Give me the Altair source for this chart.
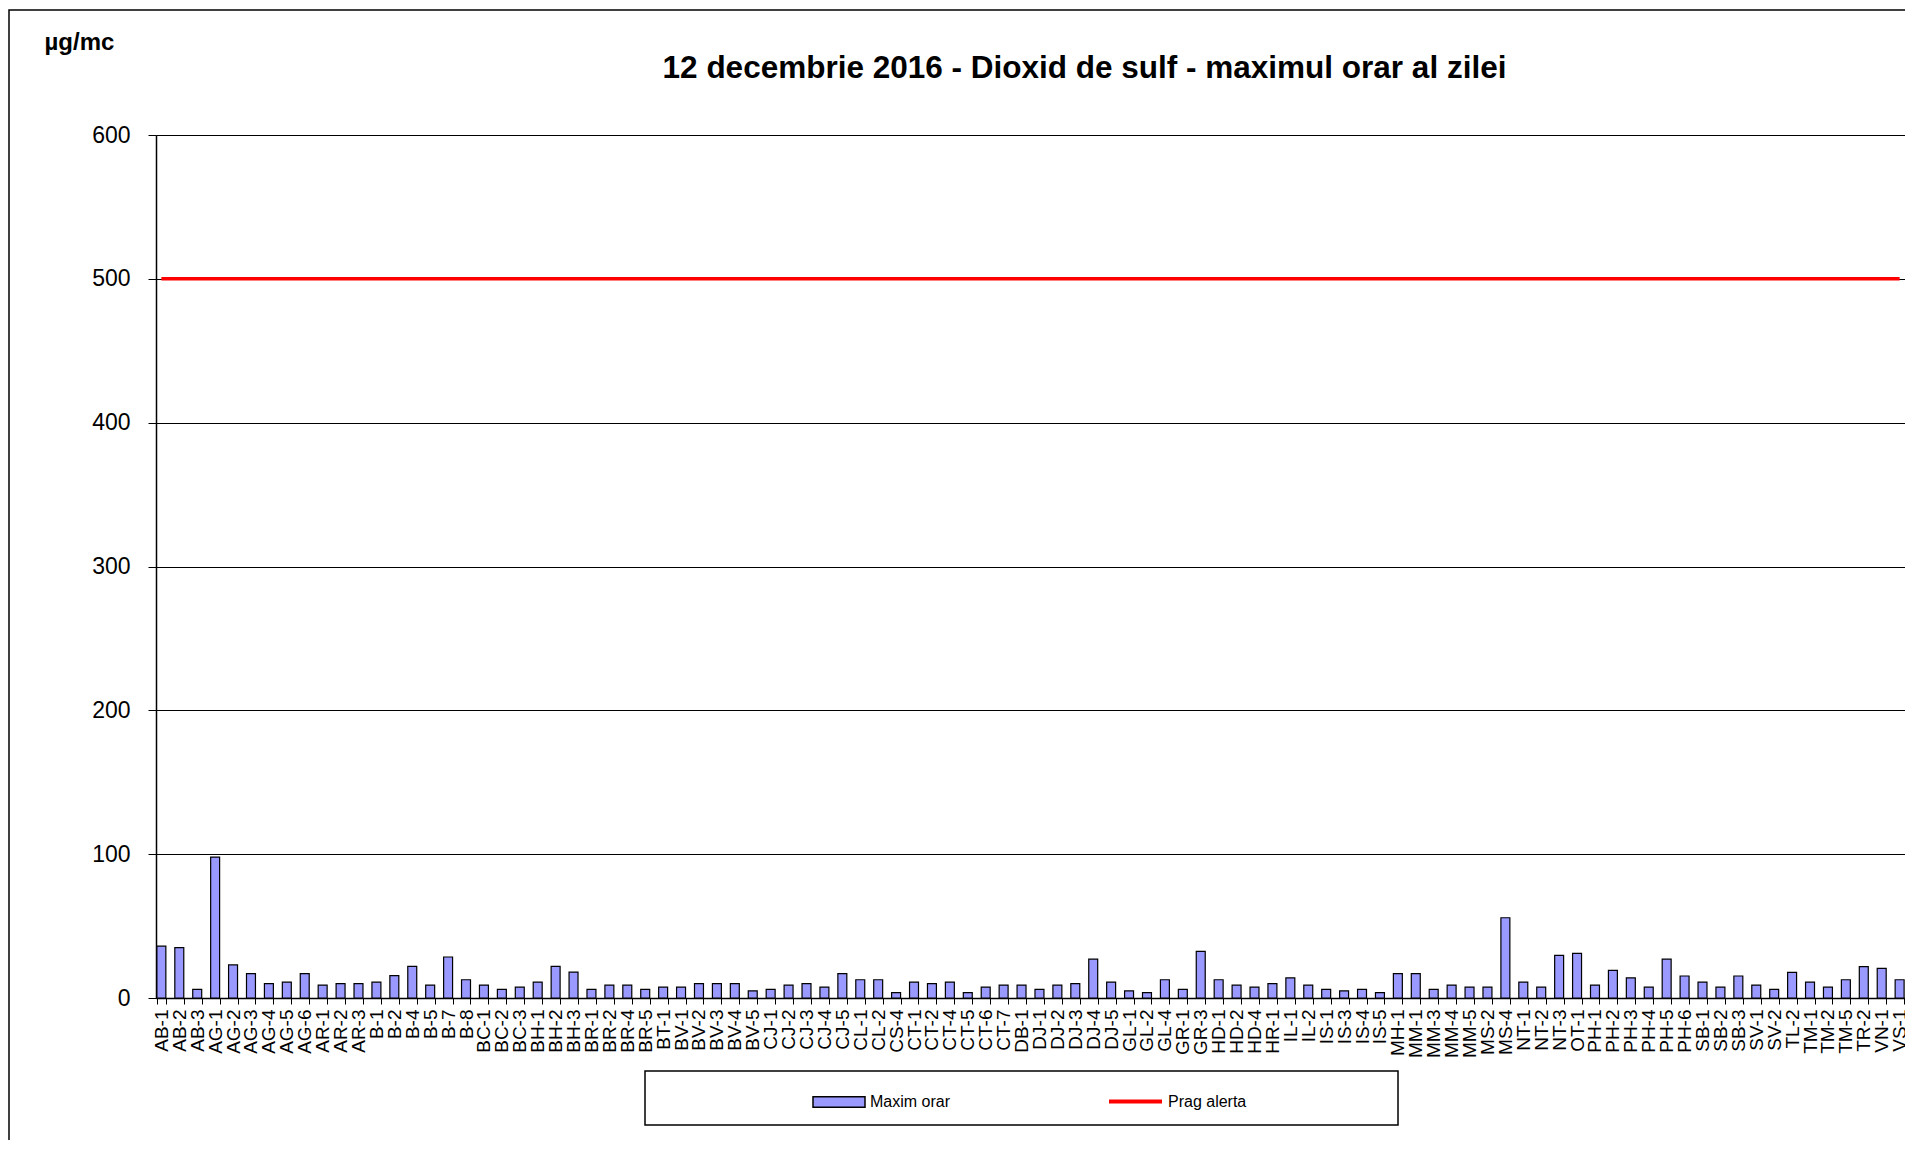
import altair as alt
import pandas as pd

# ---- data ----
stations = [
    "AB-1", "AB-2", "AB-3",
    "AG-1", "AG-2", "AG-3", "AG-4", "AG-5", "AG-6",
    "AR-1", "AR-2", "AR-3",
    "B-1", "B-2", "B-4", "B-5", "B-7", "B-8",
    "BC-1", "BC-2", "BC-3",
    "BH-1", "BH-2", "BH-3",
    "BR-1", "BR-2", "BR-4", "BR-5",
    "BT-1",
    "BV-1", "BV-2", "BV-3", "BV-4", "BV-5",
    "CJ-1", "CJ-2", "CJ-3", "CJ-4", "CJ-5",
    "CL-1", "CL-2",
    "CS-4",
    "CT-1", "CT-2", "CT-4", "CT-5", "CT-6", "CT-7",
    "DB-1",
    "DJ-1", "DJ-2", "DJ-3", "DJ-4", "DJ-5",
    "GL-1", "GL-2", "GL-4",
    "GR-1", "GR-3",
    "HD-1", "HD-2", "HD-4",
    "HR-1",
    "IL-1", "IL-2",
    "IS-1", "IS-3", "IS-4", "IS-5",
    "MH-1",
    "MM-1", "MM-3", "MM-4", "MM-5",
    "MS-2", "MS-4",
    "NT-1", "NT-2", "NT-3",
    "OT-1",
    "PH-1", "PH-2", "PH-3", "PH-4", "PH-5", "PH-6",
    "SB-1", "SB-2", "SB-3",
    "SV-1", "SV-2",
    "TL-2",
    "TM-1", "TM-2", "TM-5",
    "TR-2",
    "VN-1",
    "VS-1",
]

maxim_orar = [
    36, 35, 6,
    98, 23, 17, 10, 11, 17,
    9, 10, 10,
    11, 15.5, 22, 9, 28.5, 12.7,
    9, 6, 7.6,
    11, 22, 18,
    6, 9, 9, 6,
    7.6,
    7.6, 10, 10, 10, 5,
    6, 9, 10, 7.6, 17,
    12.7, 12.7,
    3.7,
    11, 10, 11, 3.7, 7.6, 9,
    9,
    6, 9, 10, 27, 11,
    5, 3.7, 12.7,
    6, 32.4,
    12.7, 9, 7.6,
    10,
    14, 9,
    6, 5, 6, 3.7,
    17,
    17, 6, 9, 7.6,
    7.6, 55.8,
    11, 7.6, 29.6,
    31,
    9, 19.2, 14, 7.6, 27, 15.3,
    11, 7.6, 15.3,
    9, 6,
    17.8,
    11, 7.6, 12.7,
    21.8,
    20.6,
    12.7,
]

prag_alerta = 500
y_ticks = [0, 100, 200, 300, 400, 500, 600]

assert len(stations) == len(maxim_orar)

FONT = "Liberation Sans"
W = 1749
H = 863

bars_df = pd.DataFrame({"statie": stations, "valoare": maxim_orar, "serie": "Maxim orar"})
line_df = pd.DataFrame({"statie": stations, "valoare": [prag_alerta] * len(stations), "serie": "Prag alerta"})

x_enc = alt.X(
    "statie:N",
    sort=stations,
    scale=alt.Scale(paddingInner=0.5, paddingOuter=0.05),
    axis=alt.Axis(
        title=None,
        labelAngle=270,
        labelFontSize=19,
        labelFont=FONT,
        labelColor="black",
        labelPadding=5,
        labelOverlap=False,
        tickBand="extent",
        tickSize=6,
        tickColor="black",
        domainColor="black",
        domainWidth=1.5,
        grid=False,
    ),
)

y_enc = alt.Y(
    "valoare:Q",
    scale=alt.Scale(domain=[0, 600], nice=False),
    axis=alt.Axis(
        values=y_ticks,
        title="µg/mc",
        titleAngle=0,
        titleAlign="left",
        titleBaseline="alphabetic",
        titleX=-112,
        titleY=-86,
        titleFontSize=24,
        titleFontWeight="bold",
        titleFont=FONT,
        titleColor="black",
        labelFontSize=23,
        labelFont=FONT,
        labelColor="black",
        labelPadding=18,
        tickSize=8,
        tickColor="black",
        domainColor="black",
        domainWidth=1.5,
        grid=True,
        gridColor="black",
        gridWidth=1,
    ),
)

bars = alt.Chart(bars_df).mark_bar(stroke="black", strokeWidth=1.2).encode(
    x=x_enc,
    y=y_enc,
    fill=alt.Fill(
        "serie:N",
        scale=alt.Scale(domain=["Maxim orar"], range=["#9999FF"]),
        legend=alt.Legend(
            title=None,
            orient="none",
            legendX=656,
            legendY=940,
            symbolType="M-1,-0.2H1V0.2H-1Z",
            symbolSize=2704,
            symbolStrokeColor="black",
            symbolStrokeWidth=1.5,
            symbolOpacity=1,
            labelFontSize=16,
            labelFont=FONT,
            labelColor="black",
            labelOffset=4,
        ),
    ),
)

line = alt.Chart(line_df).mark_line(strokeWidth=3.5).encode(
    x=alt.X("statie:N", sort=stations),
    y=alt.Y("valoare:Q"),
    stroke=alt.Stroke(
        "serie:N",
        scale=alt.Scale(domain=["Prag alerta"], range=["#FF0000"]),
        legend=alt.Legend(
            title=None,
            orient="none",
            legendX=951,
            legendY=938,
            symbolType="stroke",
            symbolSize=2809,
            symbolStrokeWidth=4,
            labelFontSize=16,
            labelFont=FONT,
            labelColor="black",
            labelOffset=4,
        ),
    ),
)

frame_df = pd.DataFrame({"k": [0]})
outer_frame = alt.Chart(frame_df).mark_rect(
    fill="white", fillOpacity=0, stroke="black", strokeWidth=1.5
).encode(
    x=alt.value(-147), x2=alt.value(2000), y=alt.value(-125), y2=alt.value(1300)
)
legend_box = alt.Chart(frame_df).mark_rect(
    fill="white", fillOpacity=0, stroke="black", strokeWidth=1.5
).encode(
    x=alt.value(489), x2=alt.value(1242), y=alt.value(936), y2=alt.value(990)
)

chart = alt.layer(outer_frame, legend_box, bars, line).resolve_scale(
    fill="independent", stroke="independent"
).properties(
    width=W,
    height=H,
    title=alt.TitleParams(
        text="12 decembrie 2016 - Dioxid de sulf - maximul orar al zilei",
        fontSize=31.5,
        fontWeight="bold",
        font=FONT,
        color="black",
        anchor="middle",
        frame="group",
        baseline="alphabetic",
        dx=54,
        dy=158,
        offset=58,
    ),
    autosize=alt.AutoSizeParams(type="none"),
    padding={"left": 148, "top": 127, "right": 0, "bottom": 142},
).configure_view(stroke=None).configure(background="white")

chart.save("out.html", embed_options={"renderer": "svg", "actions": False})
